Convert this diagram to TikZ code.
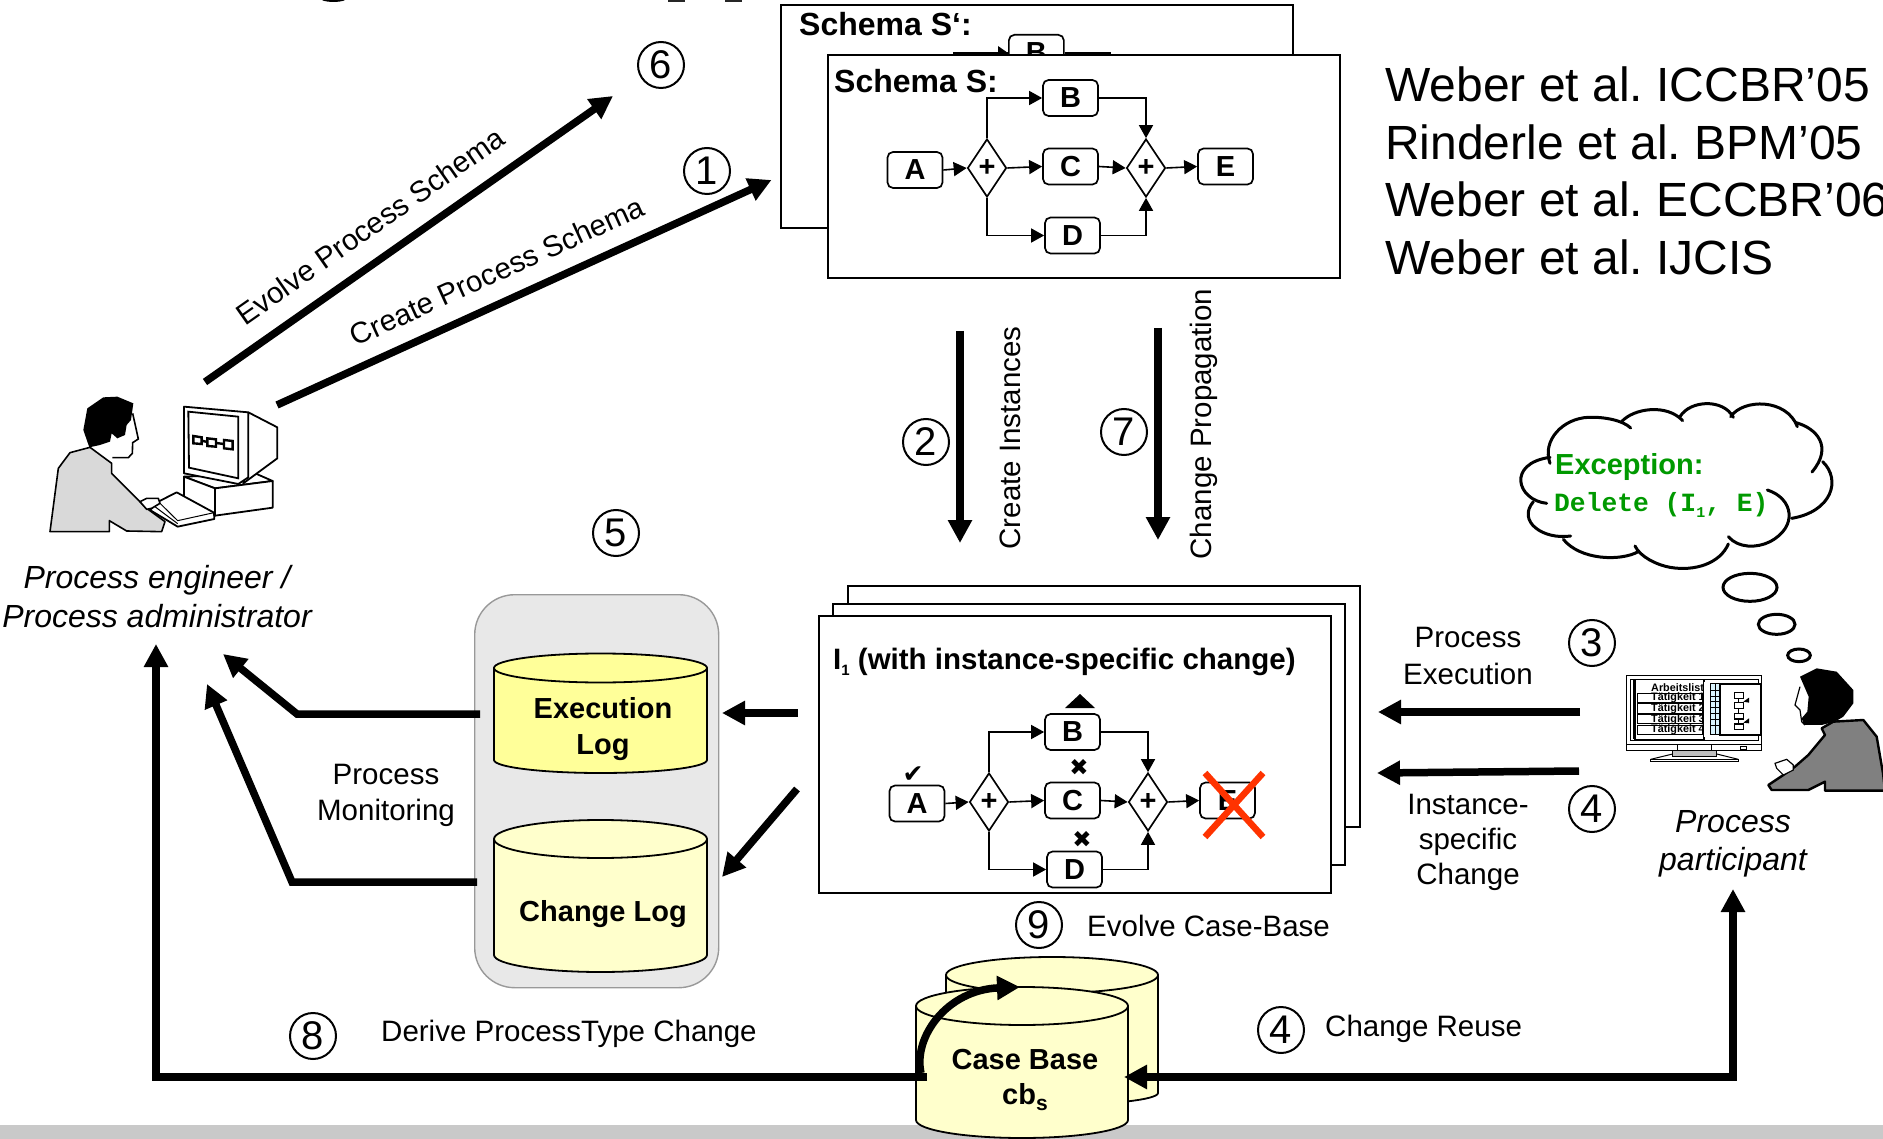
\documentclass[tikz,border=0pt]{standalone}
\usepackage{fontspec}
\setmainfont{Liberation Sans}
\newfontfamily\dejavu{DejaVu Sans}
\newfontfamily\monob{Liberation Mono}[BoldFont={Liberation Mono Bold}]
\usetikzlibrary{arrows.meta,shapes.geometric,calc}
\frenchspacing
\definecolor{lowyellow}{HTML}{FFFFCC}
\definecolor{execyellow}{HTML}{FFFF99}
\definecolor{greenex}{HTML}{009900}
\definecolor{redx}{HTML}{FF3300}
\newcommand\fs[1]{\fontsize{#1}{#1}\selectfont}
\tikzset{
  panel/.style={draw=black,fill=white,line width=1.8},
  task/.style={draw=black,fill=white,rounded corners=5.5,line width=1.7,minimum width=55,minimum height=36,inner sep=0,font=\fs{29}\bfseries},
  gate/.style={draw=black,fill=white,diamond,aspect=0.67,line width=1.7,minimum width=39,minimum height=58,inner sep=0,font=\fs{29}\bfseries},
  flow/.style={draw=black,line width=1.6,-{Triangle[length=13,width=14]}},
  bigtip/.tip={Triangle[length=23,width=23]},
  big/.style={draw=black,line width=7.5,-bigtip},
  num/.style={draw=black,circle,line width=2,minimum size=46,inner sep=0,font=\fs{40}},
  lab/.style={font=\fs{29.5},align=center,inner sep=0},
  labb/.style={font=\fs{29}\bfseries,align=center,inner sep=0},
  act/.style={font=\fs{32}\itshape,inner sep=0},
  refs/.style={font=\fs{48},anchor=west,inner sep=0},
  cloudline/.style={draw=black,line width=3,line cap=round},
}
% left right centreY ry sideBottom depth fill
\newcommand\cylinder[7]{%
  \pgfmathsetmacro\cx{(#1+#2)/2}\pgfmathsetmacro\rx{(#2-#1)/2}%
  \pgfmathsetmacro\kx{0.55*\rx}\pgfmathsetmacro\ky{0.55*#6}%
  \path[draw=black,line width=1.8,fill=#7,line join=round]
    (#1,#3) -- (#1,#5)
    .. controls (#1,#5+\ky) and (\cx-\kx,#5+#6) .. (\cx,#5+#6)
    .. controls (\cx+\kx,#5+#6) and (#2,#5+\ky) .. (#2,#5)
    -- (#2,#3) -- cycle;
  \path[draw=black,line width=1.8,fill=#7] (\cx,#3) ellipse [x radius=\rx,y radius=#4];
}
\begin{document}
\begin{tikzpicture}[x=1pt,y=-1pt]
\clip (0,0) rectangle (1883,1139);
\fill[white] (0,0) rectangle (1883,1139);
% clipped remains of a title above the page
\fill[black] (322,0) .. controls (326,2.6) and (341,2.6) .. (345,0) -- cycle;
\fill[black!85] (668,0) rectangle (685,1.8);
\fill[black!85] (725,0) rectangle (742,1.8);
% bottom band
\fill[black!21] (0,1125) rectangle (1883,1139);

% --- Schema S' (behind)
\node[panel,minimum width=512,minimum height=223,anchor=north west,inner sep=0] (boxSp) at (780,4) {};
\node[font=\fs{32}\bfseries,anchor=west,inner sep=0] (tSp) at (799,24) {Schema S‘:};
\coordinate (pL) at (953,53); \coordinate (pR) at (1111,53);
\node[task,minimum width=55,minimum height=36,anchor=north west] (pB) at (1008,34) {B};
\draw[line width=1.6] (pL) -- (pB.west |- pL);
\draw[line width=1.6] (pB.east |- pR) -- (pR);
\fill[black] (998,46) -- (1008,53) -- (998,60) -- cycle;

% --- Schema S (front)
\node[panel,minimum width=512,minimum height=223,anchor=north west,inner sep=0] (boxS) at (827,54) {};
\node[font=\fs{32}\bfseries,anchor=west,inner sep=0] (tS) at (834,81) {Schema S:};
\node[task] (sA) at (915,170) {A};
\node[gate] (sG1) at (987,168) {+};
\node[task] (sB) at (1070.5,98) {B};
\node[task] (sC) at (1070.5,166.5) {C};
\node[task] (sD) at (1072.5,235.5) {D};
\node[gate] (sG2) at (1146,168) {+};
\node[task] (sE) at (1225.5,166.5) {E};
\draw[flow] (sA.east) -- (sG1.west);
\draw[flow] (sG1.east) -- (sC.west);
\draw[flow] (sC.east) -- (sG2.west);
\draw[flow] (sG2.east) -- (sE.west);
\draw[flow] (sG1.north) |- (sB.west);
\draw[flow] (sG1.south) |- (sD.west);
\draw[flow] (sB.east) -| (sG2.north);
\draw[flow] (sD.east) -| (sG2.south);

% --- Instances
\node[panel,minimum width=512,minimum height=241,anchor=north west,inner sep=0] (boxI3) at (847,585) {};
\node[panel,minimum width=512,minimum height=261,anchor=north west,inner sep=0] (boxI2) at (832,603) {};
\node[panel,minimum width=512,minimum height=277,anchor=north west,inner sep=0] (boxI1) at (818,615) {};
\node[font=\fs{29.5}\bfseries,anchor=west,inner sep=0] (tI) at (833,662) {I\raisebox{-0.35ex}{\fs{15}1} (with instance-specific change)};
\node[task] (iA) at (917,803.5) {A};
\node[gate] (iG1) at (989,802) {+};
\node[task] (iB) at (1072.5,732) {B};
\node[task] (iC) at (1072.5,800.5) {C};
\node[task] (iD) at (1074.5,869.5) {D};
\node[gate] (iG2) at (1148,802) {+};
\node[task] (iE) at (1227.5,800.5) {E};
\draw[flow] (iA.east) -- (iG1.west);
\draw[flow] (iG1.east) -- (iC.west);
\draw[flow] (iC.east) -- (iG2.west);
\draw[flow] (iG2.east) -- (iE.west);
\draw[flow] (iG1.north) |- (iB.west);
\draw[flow] (iG1.south) |- (iD.west);
\draw[flow] (iB.east) -| (iG2.north);
\draw[flow] (iD.east) -| (iG2.south);
\fill[black] (1080,694) -- (1095,708) -- (1065,708) -- cycle;
\node[font=\dejavu\fs{25},inner sep=0] (chk) at (913,775) {✔};
\node[font=\dejavu\fs{23},inner sep=0] (xC) at (1079,767) {✖};
\node[font=\dejavu\fs{23},inner sep=0] (xD) at (1082,839) {✖};
\draw[redx,line width=6.5] (1205,773) -- (1263,837) (1263,773) -- (1205,837);

% --- Log group
\node[draw=black!40,fill=black!9,line width=1.4,rounded corners=40,minimum width=244,minimum height=393,anchor=north west,inner sep=0] (grp) at (474,594) {};
\cylinder{494}{707}{668}{14.5}{760}{13}{execyellow}
\cylinder{494}{707}{839}{19}{955}{17}{lowyellow}
\node[labb] (exlog) at (603,729) {Execution\\[7pt]Log};
\node[labb] (chlog) at (603,914) {Change Log};

% --- Case base
\cylinder{946}{1158}{975}{18}{1093}{12}{lowyellow}
\cylinder{916}{1128}{1006}{19}{1120}{18}{lowyellow}
\node[labb] (casebase) at (1025,1060) {Case Base};
\node[labb] (cbs) at (1025,1097) {cb\raisebox{-0.35ex}{\fs{21}s}};

% --- named ends
\coordinate (eEvolveA) at (205,382); \coordinate (eEvolveB) at (613,96);
\coordinate (eCreateA) at (277,405); \coordinate (eCreateB) at (771.5,180);
\coordinate (eInstA) at (960,331); \coordinate (eInstB) at (960,543);
\coordinate (ePropA) at (1158,328); \coordinate (ePropB) at (1158,540);
\coordinate (eExA) at (798,713); \coordinate (eExB) at (722,713);
\coordinate (eChA) at (797,789); \coordinate (eChB) at (722,877);
\coordinate (eMonA) at (480,714); \coordinate (eMonM) at (297,714); \coordinate (eMonB) at (223,654);
\coordinate (eMoA) at (477,882); \coordinate (eMoM) at (292,882); \coordinate (eMoB) at (207,684);
\coordinate (eExecA) at (1580,712); \coordinate (eExecB) at (1378,712);
\coordinate (eSpecA) at (1579,771); \coordinate (eSpecB) at (1377,773);
\coordinate (eDerA) at (927,1077); \coordinate (eDerM) at (156,1077); \coordinate (eDerB) at (156,644);
\coordinate (eReuA) at (1733,889); \coordinate (eReuM) at (1733,1077); \coordinate (eReuB) at (1124,1077);

\draw[big] (eEvolveA) -- (eEvolveB);
\draw[big] (eCreateA) -- (eCreateB);
\draw[big] (eInstA) -- (eInstB);
\draw[big] (ePropA) -- (ePropB);
\draw[big] (eExA) -- (eExB);
\draw[big] (eChA) -- (eChB);
\draw[big,line join=miter] (eMonA) -- (eMonM) -- (eMonB);
\draw[big,line join=miter] (eMoA) -- (eMoM) -- (eMoB);
\draw[big] (eExecA) -- (eExecB);
\draw[big] (eSpecA) -- (eSpecB);
\draw[big] (eDerA) -- (eDerM) -- (eDerB);
\draw[big,bigtip-bigtip] (eReuB) -- (eReuM) -- (eReuA);
\draw[big] (921,1073) .. controls (913,1037) and (947,990) .. (1020,987);

% --- numbers
\node[num] (n6) at (661,65) {6};
\node[num] (n1) at (707,171) {1};
\node[num] (n2) at (926,442) {2};
\node[num] (n7) at (1124,432) {7};
\node[num] (n5) at (616,533) {5};
\node[num] (n3) at (1592,643) {3};
\node[num] (n4) at (1592,809) {4};
\node[num] (n9) at (1039,925) {9};
\node[num] (n4b) at (1281,1030) {4};
\node[num] (n8) at (313,1036) {8};

% --- labels
\node[lab,rotate=35] (lEvolve) at (370,226) {Evolve Process Schema};
\node[lab,rotate=24.5] (lCreate) at (497,271) {Create Process Schema};
\node[lab,rotate=90] (lInst) at (1010,438) {Create Instances};
\node[lab,rotate=90] (lProp) at (1204,424) {Change Propagation};
\node[lab] (lMon) at (386,795.5) {Process\\[7pt]Monitoring};
\node[lab] (lEx) at (1468,656) {Process\\[7pt]Execution};
\node[lab] (lSpec) at (1468,842.5) {Instance-\\[5.5pt]specific\\[5.5pt]Change};
\node[lab,anchor=west] (lEvCB) at (1087,926) {Evolve Case-Base};
\node[lab,anchor=west] (lReuse) at (1325,1029) {Change Reuse};
\node[lab,anchor=west] (lDerive) at (381,1034) {Derive ProcessType Change};
\node[act] (aEng1) at (157,580) {Process engineer /};
\node[act] (aEng2) at (157,616) {Process administrator};
\node[act] (aPar1) at (1733,822) {Process};
\node[act] (aPar2) at (1733,862) {participant};
\node[refs] (r1) at (1385,84) {Weber et al. ICCBR’05};
\node[refs] (r2) at (1385,142) {Rinderle et al. BPM’05};
\node[refs] (r3) at (1385,199) {Weber et al. ECCBR’06};
\node[refs] (r4) at (1385,257) {Weber et al. IJCIS};

% --- thought cloud (zoom coordinates, 3 units per pixel)
\begin{scope}[shift={(1500,400)},x=0.33333pt,y=-0.33333pt]
\draw[cloudline] (150,190) .. controls (125,120) and (190,55) .. (265,52) .. controls (315,50) and (370,62) .. (392,84);
\draw[cloudline] (365,65) .. controls (400,25) and (500,10) .. (548,62);
\draw[cloudline] (540,50) .. controls (570,0) and (670,-5) .. (700,52);
\draw[cloudline] (692,50) .. controls (730,-5) and (860,-5) .. (892,80);
\draw[cloudline] (888,68) .. controls (950,85) and (1000,140) .. (936,216);
\draw[cloudline] (968,185) .. controls (1025,240) and (995,335) .. (875,355);
\draw[cloudline] (802,270) .. controls (880,295) and (895,380) .. (810,425) .. controls (770,445) and (715,445) .. (685,410);
\draw[cloudline] (685,432) .. controls (660,490) and (585,515) .. (510,502) .. controls (470,495) and (420,470) .. (405,438);
\draw[cloudline] (415,455) .. controls (360,485) and (240,480) .. (190,418);
\draw[cloudline] (212,408) .. controls (130,420) and (50,365) .. (100,305);
\draw[cloudline] (140,310) .. controls (50,300) and (20,190) .. (150,172);
\node[font=\fs{29}\bfseries,text=greenex,anchor=west,inner sep=0] (tExc) at (165,202) {Exception:};
\node[font=\monob\bfseries\fs{26.3},text=greenex,anchor=west,inner sep=0] (tDel) at (162,315) {Delete (I\raisebox{-0.4ex}{\fs{15}1}, E)};
\draw[line width=3] (750,562) ellipse [x radius=81,y radius=42];
\draw[line width=3] (830,673) ellipse [x radius=55,y radius=30];
\draw[line width=3] (897,766) ellipse [x radius=34,y radius=19];
% --- participant's monitor
\draw[line width=1,fill=white] (380,827) rectangle (783,1053);
\draw[line width=1,fill=white] (392,838) rectangle (776,1022);
\draw[line width=1] (380,1035) -- (783,1035);
\draw[line width=1,fill=white] (532,1035) rectangle (635,1053);
\draw[line width=1,fill=black!25] (518,1053) rectangle (650,1070);
\draw[line width=1] (518,1062) -- (452,1078) (650,1062) -- (715,1078);
\draw[line width=1,fill=white] (452,1078) rectangle (716,1085);
\draw[line width=1,fill=white] (722,1039) rectangle (738,1048);
\draw[line width=1.2,fill=white] (405,838) rectangle (612,1018);
\draw[line width=1] (400,838) -- (400,1018);
\node[font=\fs{10.8}\bfseries,anchor=west,inner sep=0] (tAl) at (453,862) {Arbeitsliste};
\foreach \r/\yy in {1/894,2/926,3/958,4/990}{
  \draw[line width=1] (412,\yy-14) rectangle (606,\yy+14);
  \node[font=\fs{10.8}\bfseries,anchor=west,inner sep=0] (tT\r) at (453,\yy) {Tätigkeit \r};
}
\fill[white] (612,845) rectangle (660,1010);
\draw[line width=1,fill=white!85!cyan] (630,852) rectangle (660,1003);
\foreach \yy in {870,888,905,922,940,957,975}{\draw[line width=.8] (630,\yy) -- (660,\yy);}
\draw[line width=.8] (645,852) -- (645,1003);
\draw[line width=1.2,fill=white] (660,852) rectangle (783,1005);
\foreach \yy in {878,908,940,972}{\draw[line width=1.4] (703,\yy) rectangle (730,\yy+17);}
\draw[line width=1.2] (716,895) -- (716,908) (716,925) -- (716,940) (716,957) -- (716,972);
\fill[black] (730,905) -- (747,893) -- (747,908) -- cycle;
\fill[black] (730,968) -- (747,955) -- (747,970) -- cycle;
% --- participant
\draw[line width=2.4,fill=black!50,line join=round] (965,985) -- (1000,965) -- (1090,960) -- (1130,1010) -- (1149,1120) -- (1155,1172) -- (975,1172) -- (975,1145) -- (925,1170) -- (815,1170) -- (805,1155) -- (850,1125) -- (885,1100) -- (925,1065) -- (975,1005) -- cycle;
\draw[line width=1.2,fill=white] (825,1090) -- (860,1078) -- (880,1095) -- (880,1110) -- (850,1125) -- (830,1105) -- cycle;
\fill[black] (900,830) -- (950,805) -- (1010,815) -- (1060,870) -- (1060,910) -- (1030,950) -- (1005,965) -- (965,975) -- (912,975) -- (905,955) -- (922,935) -- (926,890) -- cycle;
\draw[line width=1.2] (900,860) -- (885,915) -- (900,930) -- (905,965) -- (915,975);
\end{scope}

% --- engineer (zoom coordinates, 3 units per pixel)
\begin{scope}[shift={(30,370)},x=0.33333pt,y=-0.33333pt]
\draw[line width=1.6,fill=black!15,line join=round] (60,485) -- (85,295) -- (120,248) -- (180,232) -- (245,280) -- (245,310) -- (330,395) -- (350,415) -- (405,455) -- (395,485) -- (290,483) -- (238,452) -- (238,485) -- cycle;
\fill[black] (178,232) -- (160,180) -- (172,115) -- (220,82) -- (262,80) -- (310,100) -- (303,150) -- (290,165) -- (285,195) -- (262,205) -- (245,190) -- (240,215) -- (210,225) -- cycle;
\draw[line width=1.6] (308,130) -- (325,207) -- (308,218) -- (307,250) -- (295,263) -- (247,263);
\draw[line width=1.8,fill=white,line join=round] (462,320) -- (555,355) -- (728,333) -- (680,312) -- cycle;
\draw[line width=1.8,fill=white,line join=round] (462,320) -- (555,355) -- (555,437) -- (462,400) -- cycle;
\draw[line width=1.8,fill=white,line join=round] (555,355) -- (728,333) -- (728,413) -- (555,437) -- cycle;
\draw[line width=1.8,fill=white,line join=round] (655,127) -- (742,172) -- (742,265) -- (640,340) -- cycle;
\draw[line width=1.8,fill=white,line join=round] (462,110) -- (655,127) -- (655,322) -- (625,342) -- (462,310) -- cycle;
\draw[line width=1.8] (475,125) -- (625,140) -- (625,325) -- (477,293) -- cycle;
\draw[line width=2.4] (490,198) -- (515,202) -- (515,222) -- (490,220) -- cycle (532,205) -- (558,208) -- (558,230) -- (532,228) -- cycle (582,210) -- (608,213) -- (608,238) -- (582,235) -- cycle (515,212) -- (532,216) (558,219) -- (582,222);
\draw[line width=1.8,fill=white,line join=round] (385,395) -- (440,367) -- (552,428) -- (553,447) -- (443,470) -- (360,420) -- cycle;
\draw[line width=1] (385,395) -- (443,452) -- (552,428) (372,408) -- (443,461);
\draw[line width=1.6,fill=white,line join=round] (330,395) -- (350,385) -- (385,385) -- (390,400) -- (365,415) -- (350,418) -- cycle;
\end{scope}
\end{tikzpicture}
\end{document}
